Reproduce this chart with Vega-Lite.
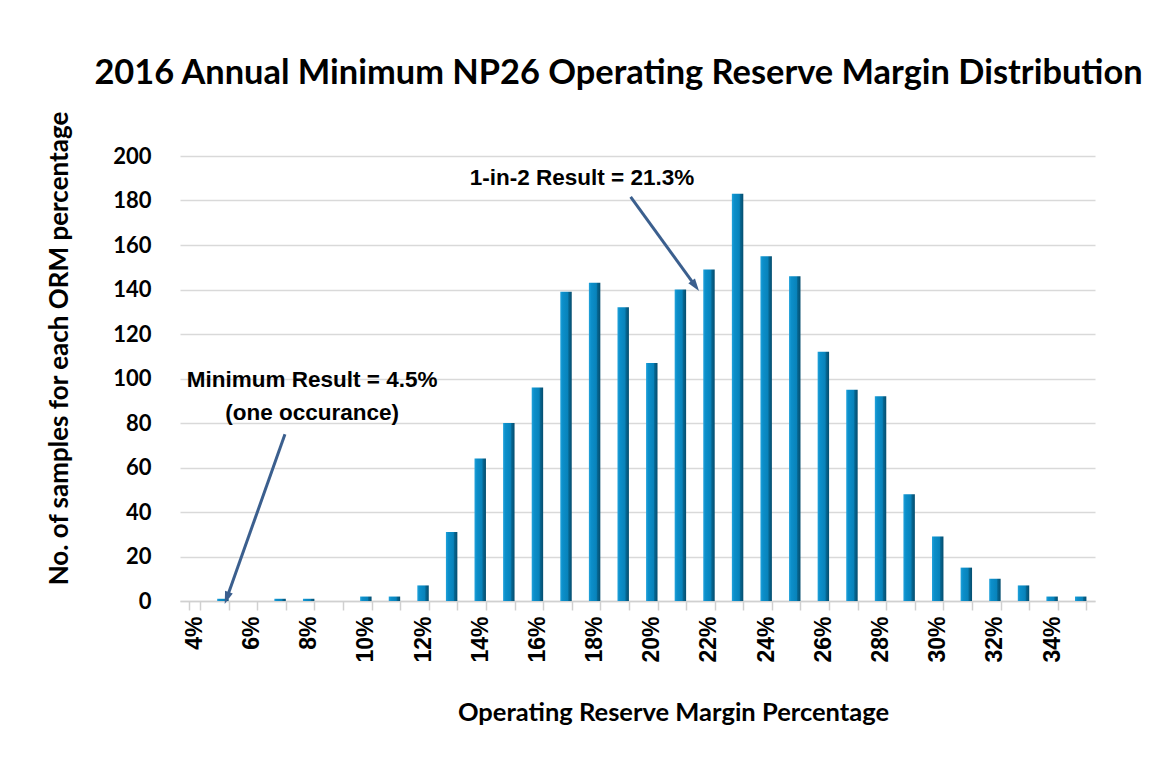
{
  "$schema": "https://vega.github.io/schema/vega-lite/v6.json",
  "autosize": {"type": "none"},
  "padding": {"left": 180, "top": 156, "right": 76, "bottom": 158},
  "width": 915,
  "height": 445,
  "background": "white",
  "config": {"view": {"stroke": null}},
  "title": {
    "text": "2016 Annual Minimum NP26 Operating Reserve Margin Distribution",
    "font": "Lato",
    "fontSize": 34.4,
    "fontWeight": "bold",
    "color": "#000000",
    "anchor": "middle",
    "dx": -19,
    "offset": 19
  },
  "datasets": {
    "bars": [
      {"pct": 4, "n": 0}, {"pct": 5, "n": 1}, {"pct": 6, "n": 0}, {"pct": 7, "n": 1},
      {"pct": 8, "n": 1}, {"pct": 9, "n": 0}, {"pct": 10, "n": 2}, {"pct": 11, "n": 2},
      {"pct": 12, "n": 7}, {"pct": 13, "n": 31}, {"pct": 14, "n": 64}, {"pct": 15, "n": 80},
      {"pct": 16, "n": 96}, {"pct": 17, "n": 139}, {"pct": 18, "n": 143}, {"pct": 19, "n": 132},
      {"pct": 20, "n": 107}, {"pct": 21, "n": 140}, {"pct": 22, "n": 149}, {"pct": 23, "n": 183},
      {"pct": 24, "n": 155}, {"pct": 25, "n": 146}, {"pct": 26, "n": 112}, {"pct": 27, "n": 95},
      {"pct": 28, "n": 92}, {"pct": 29, "n": 48}, {"pct": 30, "n": 29}, {"pct": 31, "n": 15},
      {"pct": 32, "n": 10}, {"pct": 33, "n": 7}, {"pct": 34, "n": 2}, {"pct": 35, "n": 2}
    ],
    "arrows": [
      {"id": "median", "x": 19.26, "y": 181.6, "x2": 21.5, "y2": 142.0},
      {"id": "min", "x": 7.17, "y": 74.9, "x2": 5.15, "y2": 1.8}
    ],
    "labels": [
      {"x": 17.56, "y": 190, "text": "1-in-2 Result = 21.3%"},
      {"x": 8.12, "y": 99.2, "text": "Minimum Result = 4.5%"},
      {"x": 8.12, "y": 84.4, "text": "(one occurance)"}
    ]
  },
  "layer": [
    {
      "data": {"name": "bars"},
      "mark": {
        "type": "bar",
        "fill": {
          "gradient": "linear", "x1": 0, "x2": 1, "y1": 0, "y2": 0,
          "stops": [
            {"offset": 0, "color": "#22a3dc"},
            {"offset": 0.2, "color": "#0c8fca"},
            {"offset": 0.65, "color": "#0883bb"},
            {"offset": 0.75, "color": "#066691"},
            {"offset": 1, "color": "#054d6e"}
          ]
        }
      },
      "encoding": {
        "x": {
          "field": "pct", "type": "ordinal",
          "scale": {"paddingInner": 0.6, "paddingOuter": 0.3},
          "axis": {
            "title": "Operating Reserve Margin Percentage",
            "titleFont": "Lato", "titleFontSize": 25.5, "titleFontWeight": "bold", "titleColor": "#000000",
            "titleX": 493, "titleY": 111, "titleAlign": "center", "titleBaseline": "middle",
            "labelExpr": "datum.value % 2 == 0 ? datum.value + '%' : ''",
            "labelAngle": 270, "labelAlign": "right", "labelBaseline": "middle",
            "labelFont": "Liberation Sans", "labelFontSize": 23, "labelFontWeight": "bold", "labelColor": "#000000",
            "labelPadding": 6,
            "tickBand": "extent", "ticks": true, "tickColor": "#d0d0d0", "tickSize": 9, "tickWidth": 1.5,
            "domain": true, "domainColor": "#d0d0d0", "domainWidth": 1.5,
            "grid": false, "labelOverlap": false
          }
        },
        "y": {
          "field": "n", "type": "quantitative",
          "scale": {"domain": [0, 200], "nice": false},
          "axis": {
            "title": "No. of samples for each ORM percentage",
            "titleFont": "Lato", "titleFontSize": 26, "titleFontWeight": "bold", "titleColor": "#000000",
            "titleX": -121, "titleY": 192, "titleAlign": "center", "titleBaseline": "middle", "titleAngle": 270,
            "values": [0, 20, 40, 60, 80, 100, 120, 140, 160, 180, 200],
            "labelFont": "Lato", "labelFontSize": 22, "labelFontWeight": "bold", "labelColor": "#000000",
            "labelPadding": 29,
            "ticks": false, "domain": false,
            "grid": true, "gridColor": "#d9d9d9", "gridWidth": 1.5
          }
        }
      }
    },
    {
      "data": {"name": "arrows"},
      "mark": {"type": "rule", "color": "#3b5f8e", "strokeWidth": 3},
      "encoding": {
        "x": {"field": "x", "type": "quantitative", "scale": {"domain": [3.5, 35.5], "nice": false, "zero": false}, "axis": null},
        "y": {"field": "y", "type": "quantitative"},
        "x2": {"field": "x2"},
        "y2": {"field": "y2"}
      }
    },
    {
      "data": {"name": "arrows"},
      "transform": [{"filter": "datum.id == 'median'"}],
      "mark": {"type": "point", "shape": "M0,-1L0.55,0.7L-0.55,0.7Z", "filled": true, "color": "#3b5f8e", "opacity": 1, "size": 220, "angle": 144},
      "encoding": {
        "x": {"field": "x2", "type": "quantitative", "scale": {"domain": [3.5, 35.5], "nice": false, "zero": false}, "axis": null},
        "y": {"field": "y2", "type": "quantitative"}
      }
    },
    {
      "data": {"name": "arrows"},
      "transform": [{"filter": "datum.id == 'min'"}],
      "mark": {"type": "point", "shape": "M0,-1L0.55,0.7L-0.55,0.7Z", "filled": true, "color": "#3b5f8e", "opacity": 1, "size": 220, "angle": 199.5},
      "encoding": {
        "x": {"field": "x2", "type": "quantitative", "scale": {"domain": [3.5, 35.5], "nice": false, "zero": false}, "axis": null},
        "y": {"field": "y2", "type": "quantitative"}
      }
    },
    {
      "data": {"name": "labels"},
      "mark": {"type": "text", "font": "Liberation Sans", "fontSize": 22.5, "fontWeight": "bold", "color": "#000000", "align": "center", "baseline": "middle"},
      "encoding": {
        "x": {"field": "x", "type": "quantitative", "scale": {"domain": [3.5, 35.5], "nice": false, "zero": false}, "axis": null},
        "y": {"field": "y", "type": "quantitative"},
        "text": {"field": "text"}
      }
    }
  ],
  "resolve": {"scale": {"x": "independent"}, "axis": {"x": "independent"}}
}
